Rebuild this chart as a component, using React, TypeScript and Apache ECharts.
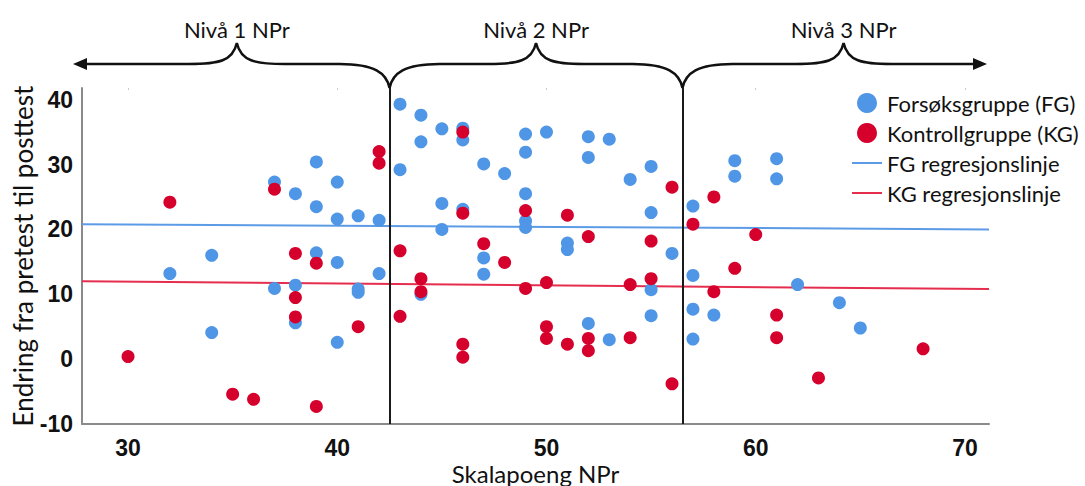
import React, { useEffect, useRef } from "react";
import * as echarts from "echarts";

// ---------- data ----------
const fgPoints: [number, number][] = [
  [32, 13.2], [34, 16.0], [34, 4.1], [37, 27.3], [37, 10.9], [38, 25.5], [38, 11.4], [38, 5.6],
  [39, 30.4], [39, 23.5], [39, 16.4], [40, 27.3], [40, 21.6], [40, 14.9], [40, 2.6], [41, 22.1],
  [41, 10.8], [41, 10.3], [42, 21.4], [42, 13.2],
  [43, 39.3], [43, 29.2], [44, 37.6], [44, 33.5], [44, 10.0], [45, 35.5], [45, 24.0], [45, 20.0],
  [46, 35.6], [46, 33.8], [46, 23.1], [47, 30.1], [47, 15.6], [47, 13.1], [48, 28.6], [49, 34.7],
  [49, 31.9], [49, 25.5], [49, 21.3], [49, 20.3], [50, 35.0], [51, 17.9], [51, 16.9], [52, 34.3],
  [52, 31.1], [52, 5.5], [53, 33.9], [53, 3.0], [54, 27.7], [55, 29.7], [55, 22.6], [55, 10.7],
  [55, 6.7], [56, 16.3],
  [57, 23.6], [57, 12.9], [57, 7.7], [57, 3.1], [58, 6.8], [59, 30.6], [59, 28.2], [61, 30.9],
  [61, 27.8], [62, 11.5], [64, 8.7], [65, 4.8],
];

const kgPoints: [number, number][] = [
  [30, 0.4], [32, 24.2], [35, -5.4], [36, -6.2], [37, 26.2], [38, 16.3], [38, 9.5], [38, 6.5],
  [39, 14.8], [39, -7.3], [41, 5.0], [42, 32.0], [42, 30.2],
  [43, 16.7], [43, 6.6], [44, 12.4], [44, 10.4], [46, 35.0], [46, 22.5], [46, 2.3], [46, 0.3],
  [47, 17.8], [48, 14.9], [49, 22.9], [49, 10.9], [50, 11.8], [50, 5.0], [50, 3.2], [51, 22.2],
  [51, 2.3], [52, 18.9], [52, 3.2], [52, 1.3], [54, 11.5], [54, 3.3], [55, 18.2], [55, 12.4],
  [56, 26.5], [56, -3.8],
  [57, 20.8], [58, 25.0], [58, 10.4], [59, 14.0], [60, 19.2], [61, 6.8], [61, 3.3], [63, -2.9],
  [68, 1.6],
];

const fgRegression: [number, number][] = [[27.8, 20.8], [71.15, 20.0]];
const kgRegression: [number, number][] = [[27.8, 12.0], [71.15, 10.8]];

const xTicks = [30, 40, 50, 60, 70];
const yTicks = [-10, 0, 10, 20, 30, 40];
const levelBounds = [42.5, 56.5];
const levelCenters = [35.2, 49.5, 64.2];
const levelLabels = ["Nivå 1 NPr", "Nivå 2 NPr", "Nivå 3 NPr"];
const seriesNames = [
  "Forsøksgruppe (FG)",
  "Kontrollgruppe (KG)",
  "FG regresjonslinje",
  "KG regresjonslinje",
];
const xTitle = "Skalapoeng NPr";
const yTitle = "Endring fra pretest til posttest";

const X_MIN = 27.8;
const X_MAX = 71.15;
const Y_MIN = -10;
const Y_MAX = 41.8;

const BLUE = "#5096E6";
const RED = "#D6002D";
const BLUE_LINE = "#5C9BE6";
const RED_LINE = "#E52E4D";
const TEXT_FONT = "Lato, 'Open Sans', sans-serif";
const NUM_FONT = "'Liberation Sans', Arial, sans-serif";
const LINE_ICON = "path://M0,0H30V2H0Z";

export default function App() {
  const ref = useRef<HTMLDivElement>(null);

  useEffect(() => {
    if (!ref.current) return;
    const chart = echarts.init(ref.current, undefined, { renderer: "svg" });

    chart.setOption({
      animation: false,
      backgroundColor: "#ffffff",
      grid: { left: 82, right: 96, top: 88, bottom: 62, containLabel: false, outerBoundsMode: "none" },
      legend: {
        orient: "vertical",
        left: 852,
        top: 92,
        padding: 0,
        itemWidth: 30,
        itemHeight: 20,
        itemGap: 8,
        symbolKeepAspect: true,
        textStyle: { fontFamily: TEXT_FONT, fontSize: 22, color: "#111", lineHeight: 21 },
        data: [
          { name: seriesNames[0], icon: "circle" },
          { name: seriesNames[1], icon: "circle" },
          { name: seriesNames[2], icon: LINE_ICON },
          { name: seriesNames[3], icon: LINE_ICON },
        ],
      },
      xAxis: [
        {
          type: "value",
          min: X_MIN,
          max: X_MAX,
          name: xTitle,
          nameLocation: "middle",
          nameGap: 37,
          nameMoveOverlap: false,
          nameTextStyle: { fontFamily: TEXT_FONT, fontSize: 24, color: "#111", lineHeight: 24 },
          axisLine: { show: true, onZero: false, lineStyle: { color: "#8a8a8a", width: 2 } },
          axisTick: { show: false },
          splitLine: { show: false },
          axisLabel: {
            customValues: xTicks,
            margin: 15,
            lineHeight: 18,
            fontFamily: NUM_FONT,
            fontWeight: "bold",
            fontSize: 23,
            color: "#111",
          },
        },
        {
          type: "value",
          position: "top",
          min: X_MIN,
          max: X_MAX,
          axisLine: { show: false, onZero: false },
          axisTick: { show: true, inside: true, length: 2, customValues: xTicks, lineStyle: { color: "#c8c8c8", width: 1 } },
          axisLabel: { show: false },
          splitLine: { show: false },
        },
      ],
      yAxis: {
        type: "value",
        min: Y_MIN,
        max: Y_MAX,
        name: yTitle,
        nameLocation: "middle",
        nameGap: 45,
        nameMoveOverlap: false,
        nameTextStyle: { fontFamily: TEXT_FONT, fontSize: 26, color: "#111", lineHeight: 28 },
        axisLine: { show: true, onZero: false, lineStyle: { color: "#8a8a8a", width: 2 } },
        axisTick: { show: false },
        splitLine: { show: false },
        axisLabel: {
          customValues: yTicks,
          margin: 9,
          fontFamily: NUM_FONT,
          fontWeight: "bold",
          fontSize: 23,
          color: "#111",
        },
      },
      series: [
        {
          name: seriesNames[0],
          type: "scatter",
          data: fgPoints,
          symbolSize: 13,
          itemStyle: { color: BLUE, opacity: 1 },
          markLine: {
            silent: true,
            symbol: "none",
            label: { show: false },
            lineStyle: { color: "#1a1a1a", width: 2, type: "solid" },
            data: levelBounds.map((v) => ({ xAxis: v })),
          },
          z: 3,
        },
        {
          name: seriesNames[1],
          type: "scatter",
          data: kgPoints,
          symbolSize: 13,
          itemStyle: { color: RED, opacity: 1 },
          z: 4,
        },
        {
          name: seriesNames[2],
          type: "line",
          data: fgRegression,
          symbol: "none",
          showSymbol: false,
          lineStyle: { color: BLUE_LINE, width: 2 },
          itemStyle: { color: BLUE_LINE },
          z: 2,
        },
        {
          name: seriesNames[3],
          type: "line",
          data: kgRegression,
          symbol: "none",
          showSymbol: false,
          lineStyle: { color: RED_LINE, width: 2 },
          itemStyle: { color: RED_LINE },
          z: 2,
        },
      ],
    });

    // ---------- braces (annotation) ----------
    const px = (v: number) => chart.convertToPixel({ xAxisIndex: 0 }, v) as number;
    const gTop = chart.convertToPixel({ yAxisIndex: 0 }, Y_MAX) as number;
    const gLeft = px(X_MIN);
    const gRight = px(X_MAX);
    const b1 = px(levelBounds[0]);
    const b2 = px(levelBounds[1]);
    const c = levelCenters.map(px);
    const base = gTop - 24;
    const peak = gTop - 45;
    const leftTip = gLeft - 9;
    const rightTip = gRight - 2;

    const peakSeg = (xm: number) =>
      `L ${xm - 48} ${base} C ${xm - 18} ${base} ${xm - 4} ${base - 3} ${xm} ${peak} ` +
      `C ${xm + 4} ${base - 3} ${xm + 18} ${base} ${xm + 48} ${base} `;
    const cuspStart = (x: number) =>
      `M ${x} ${gTop} C ${x + 3} ${gTop - 15} ${x + 15} ${base} ${x + 50} ${base} `;
    const cuspEnd = (x: number) =>
      `L ${x - 50} ${base} C ${x - 15} ${base} ${x - 3} ${gTop - 15} ${x} ${gTop} `;

    const d =
      `M ${leftTip + 10} ${base} ` + peakSeg(c[0]) + cuspEnd(b1) +
      cuspStart(b1) + peakSeg(c[1]) + cuspEnd(b2) +
      cuspStart(b2) + peakSeg(c[2]) + `L ${rightTip - 10} ${base}`;

    echarts.graphic.registerShape("braceLines", echarts.graphic.extendPath(d, {}) as any);

    chart.setOption({
      graphic: [
        {
          type: "braceLines",
          x: 0,
          y: 0,
          silent: true,
          style: { stroke: "#111", fill: "none", lineWidth: 2.5 },
        },
        {
          type: "polygon",
          silent: true,
          shape: { points: [[leftTip, base], [leftTip + 14, base - 6], [leftTip + 14, base + 6]] },
          style: { fill: "#111" },
        },
        {
          type: "polygon",
          silent: true,
          shape: { points: [[rightTip, base], [rightTip - 14, base - 6], [rightTip - 14, base + 6]] },
          style: { fill: "#111" },
        },
        ...levelLabels.map((t, i) => ({
          type: "text",
          silent: true,
          x: c[i],
          y: gTop - 59,
          style: {
            text: t,
            fontFamily: TEXT_FONT,
            fontSize: 22,
            fill: "#111",
            align: "center",
            verticalAlign: "middle",
          },
        })),
      ],
    });

    return () => chart.dispose();
  }, []);

  return (
    <div
      ref={ref}
      style={{ position: "fixed", left: 0, top: 0, width: 1085, height: 486, background: "#fff" }}
    />
  );
}
